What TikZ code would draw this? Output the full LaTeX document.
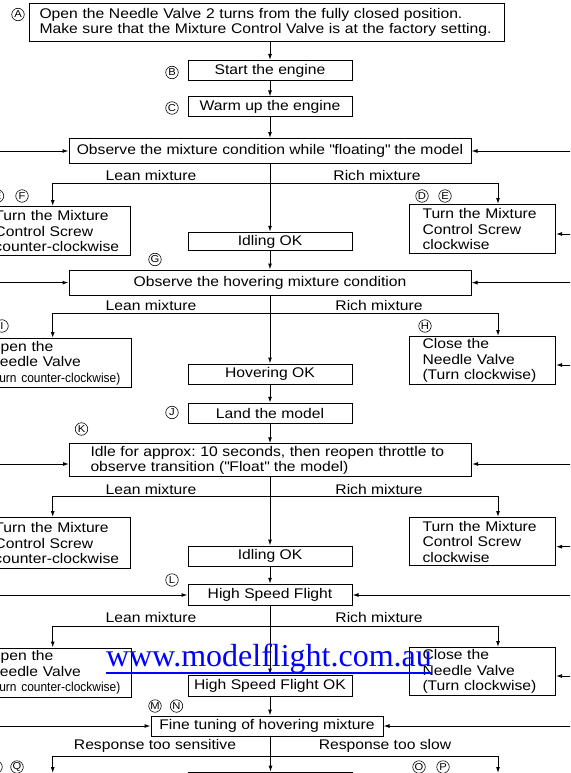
\documentclass[tikz,border=0pt]{standalone}
\usepackage{fontspec}
\setmainfont{Liberation Sans}[FakeStretch=1.12]
\newfontfamily\narrowfont{Liberation Sans}[FakeStretch=0.92]
\newfontfamily\webfont{Liberation Serif}
\usetikzlibrary{arrows.meta,calc}
\exhyphenpenalty=10000
\hyphenpenalty=10000
\frenchspacing

\begin{document}
\begin{tikzpicture}[x=1pt,y=-1pt,>={Latex[length=6pt,width=4pt]},line width=1pt,
  font=\fontsize{14}{15.5}\selectfont,
  box/.style={draw,inner sep=0pt,minimum width=164pt,minimum height=20pt},
  wide/.style={draw,inner sep=0pt,minimum width=402pt,minimum height=25pt},
  side/.style={draw,anchor=north west,align=left,inner xsep=13pt,inner ysep=0pt,text width=120pt,minimum height=48pt},
  tag/.style={draw,circle,inner sep=0pt,minimum size=12.5pt,line width=0.6pt,font=\fontsize{10}{10}\selectfont}]
\useasboundingbox (0,0) rectangle (570,773);
\clip (0,0) rectangle (570,773);

% start
\node[draw,anchor=north west,align=left,inner xsep=10pt,inner ysep=0pt,text width=455pt,minimum height=38pt] (open) at (29,3)
  {Open the Needle Valve 2 turns from the fully closed position.\\Make sure that the Mixture Control Valve is at the factory setting.};
\node[tag] (tA) at (18,14.5) {A};
\node[box] (start) at (270,70.5) {Start the engine};
\node[tag] (tB) at (172,72.5) {B};
\node[box] (warm) at (270,107) {Warm up the engine};
\node[tag] (tC) at (172,108) {C};

% floating
\node[wide] (float) at (270,151) {Observe the mixture condition while \textquotedbl floating\textquotedbl\ the model};
\node (leanA) at (151,175) {Lean mixture};
\node (richA) at (377,175) {Rich mixture};
\coordinate (blA) at (52.7,183.3);
\coordinate (brA) at (498,183.3);
\node[side,text width=127pt,inner xsep=9pt,minimum height=49pt] (ccwA) at (-15,206) {Turn the Mixture\\Control Screw\\counter-clockwise};
\node[side,minimum height=49pt] (cwA) at (409,204) {Turn the Mixture\\Control Screw\\clockwise};
\node[tag] (tE1) at (-2.5,196) {E};
\node[tag] (tF) at (22,196) {F};
\node[tag] (tD) at (422,196) {D};
\node[tag] (tE2) at (445,196) {E};
\node[box,minimum height=18.5pt] (idleA) at (270,241.5) {Idling OK};

% hovering
\node[tag] (tG) at (155,259.5) {G};
\node[wide] (hover) at (270,282.5) {Observe the hovering mixture condition};
\node (leanB) at (151,305) {Lean mixture};
\node (richB) at (379,305) {Rich mixture};
\coordinate (blB) at (52.7,313.3);
\coordinate (brB) at (498,313.3);
\node[side,text width=130pt,minimum height=49pt] (openB) at (-25,338) {Open the\\Needle Valve\\\mbox{\narrowfont\fontsize{13}{15.5}\selectfont(Turn counter-clockwise)}};
\node[side] (closeB) at (409,336) {Close the\\Needle Valve\\(Turn clockwise)};
\node[tag] (tI) at (2,326) {I};
\node[tag] (tH) at (425,326) {H};
\node[box] (hoverOK) at (270,374) {Hovering OK};
\node[box] (land) at (270,413.3) {Land the model};
\node[tag] (tJ) at (172,412.5) {J};

% transition
\node[tag] (tK) at (81.5,429) {K};
\node[draw,anchor=north west,align=left,inner xsep=21pt,inner ysep=0pt,text width=360pt,minimum height=33pt] (idle) at (69,443.3)
  {Idle for approx: 10 seconds, then reopen throttle to\\observe transition (\textquotedbl Float\textquotedbl\ the model)};
\node (leanC) at (151,489.3) {Lean mixture};
\node (richC) at (379,489.3) {Rich mixture};
\coordinate (blC) at (52.7,496);
\coordinate (brC) at (498,496);
\node[side,text width=127pt,inner xsep=9pt,minimum height=51pt] (ccwC) at (-15,517) {Turn the Mixture\\Control Screw\\counter-clockwise};
\node[side] (cwC) at (409,517) {Turn the Mixture\\Control Screw\\clockwise};
\node[box] (idleB) at (270,556) {Idling OK};

% high speed
\node[tag] (tL) at (172,580) {L};
\node[box,minimum height=21.5pt] (hsf) at (270,595) {High Speed Flight};
\node (leanD) at (151,617.3) {Lean mixture};
\node (richD) at (379,617.3) {Rich mixture};
\coordinate (blD) at (52.7,626);
\coordinate (brD) at (498,626);
\node[side,text width=130pt,minimum height=49pt] (openD) at (-25,647.5) {Open the\\Needle Valve\\\mbox{\narrowfont\fontsize{13}{15.5}\selectfont(Turn counter-clockwise)}};
\node[side] (closeD) at (409,647) {Close the\\Needle Valve\\(Turn clockwise)};
\node[box,minimum height=21pt] (hsfok) at (270,685.5) {High Speed Flight OK};

% fine tuning
\node[tag] (tM) at (155,706) {M};
\node[tag] (tN) at (176.5,706) {N};
\node[draw,inner sep=0pt,minimum width=232pt,minimum height=20pt] (fine) at (267,726) {Fine tuning of hovering mixture};
\node (sens) at (155,745.7) {Response too sensitive};
\node (slow) at (385,745.7) {Response too slow};
\coordinate (blE) at (52.7,756);
\coordinate (brE) at (498,756);
\coordinate (sensEnd) at (52.7,773);
\coordinate (slowEnd) at (498,773);
\node[box,anchor=north west] (nextbox) at (188,771.7) {};
\node[tag] (tP1) at (-4,767) {P};
\node[tag] (tQ) at (17,767) {Q};
\node[tag] (tO) at (419,767) {O};
\node[tag] (tP2) at (443,767) {P};

% main line
\draw[->] (open.south -| start) -- (start);
\draw[->] (start) -- (warm);
\draw[->] (warm) -- (float);
\draw[->] (float) -- (idleA);
\draw[->] (idleA) -- (hover);
\draw[->] (hover) -- (hoverOK);
\draw[->] (hoverOK) -- (land);
\draw[->] (land) -- (idle.north -| land);
\draw[->] (idle.south -| land) -- (idleB);
\draw[->] (idleB) -- (hsf);
\draw[->] (hsf) -- (hsfok);
\draw[->] (hsfok) -- (hsfok |- fine.north);
\draw[->] (fine.south -| nextbox.north) -- (nextbox.north);

% branches
\draw[<->] (blA |- ccwA.north) -- (blA) -- (brA) -- (brA |- cwA.north);
\draw[<->] (blB |- openB.north) -- (blB) -- (brB) -- (brB |- closeB.north);
\draw[<->] (blC |- ccwC.north) -- (blC) -- (brC) -- (brC |- cwC.north);
\draw[<->] (blD |- openD.north) -- (blD) -- (brD) -- (brD |- closeD.north);
\draw[<->] (sensEnd) -- (blE) -- (brE) -- (slowEnd);

% loops back in
\foreach \nd/\yy in {float/151,hover/282.6,idle/464,hsf/595,fine/726}{
  \coordinate (inL) at (-5,\yy);
  \coordinate (inR) at (575,\yy);
  \draw[->] (inL) -- (inL -| \nd.west);
  \draw[->] (inR) -- (inR -| \nd.east);
}
\foreach \nd/\yy in {cwA/234,closeB/365,cwC/546.7,closeD/676}{
  \coordinate (inR) at (575,\yy);
  \draw[->] (inR) -- (inR -| \nd.east);
}

% watermark
\node[font=\webfont\fontsize{32}{32}\selectfont,text=blue,anchor=base west,inner sep=0pt] (web) at (105.5,666.7) {www.modelflight.com.au};
\draw[blue,line width=2pt] ($(web.base west)+(0,6)$) -- ($(web.base east)+(0,6)$);
\end{tikzpicture}
\end{document}
